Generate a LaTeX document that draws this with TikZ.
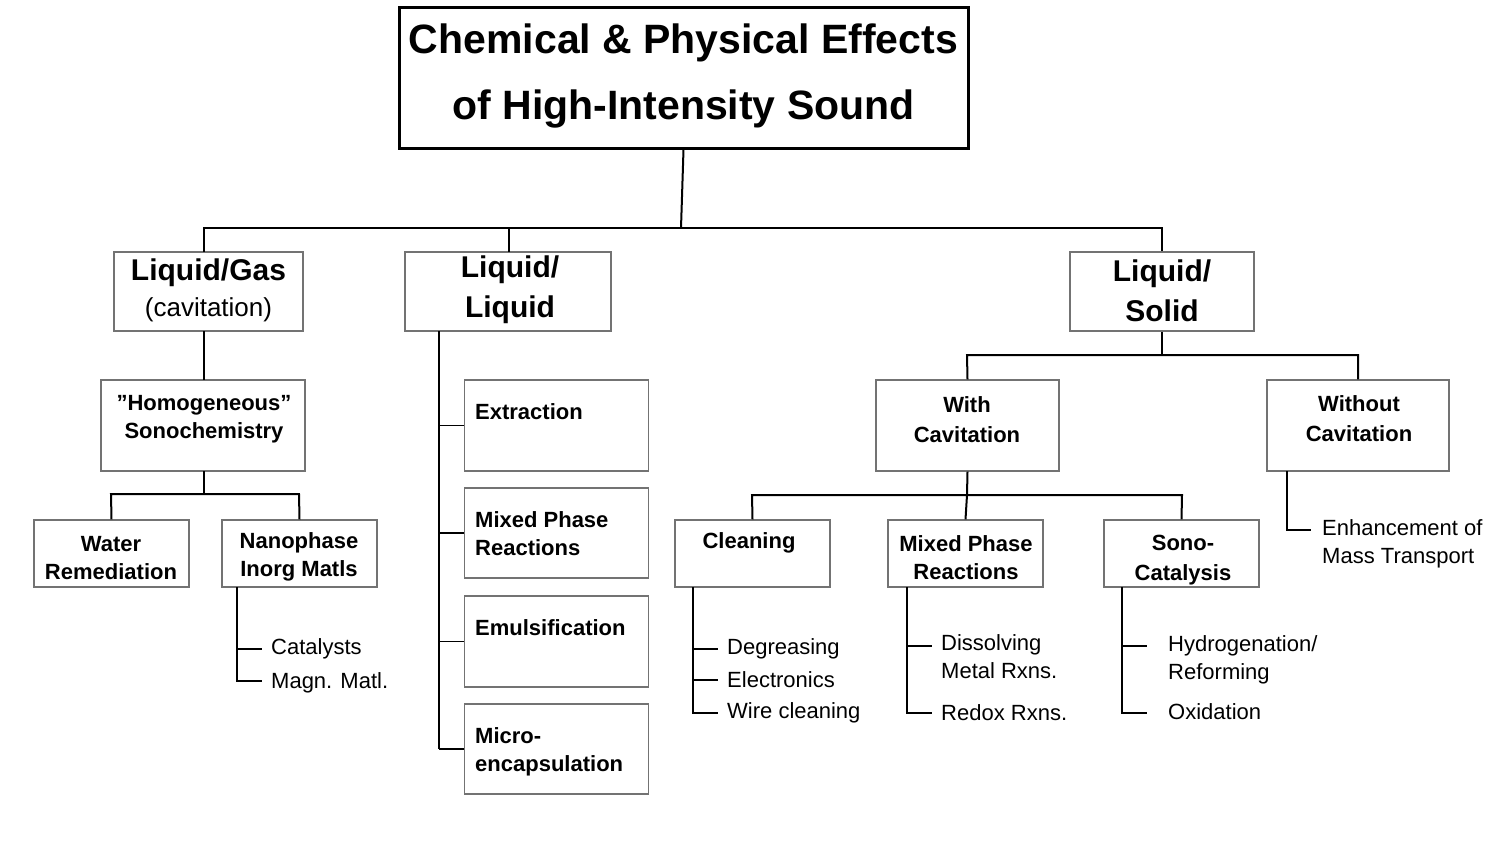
\documentclass[tikz,border=0pt]{standalone}
\usepackage{fontspec}
\setmainfont{Liberation Sans}
\begin{document}
\begin{tikzpicture}[x=1pt,y=-1pt,
 bx/.style={draw=black!55,line width=1.3pt,inner sep=0pt},
 cn/.style={line width=2pt},
 bt/.style={font=\fontsize{22}{28}\selectfont\bfseries,align=center,inner sep=0pt},
 st/.style={font=\fontsize{22}{28}\selectfont,anchor=west,inner sep=0pt,align=left},
 lt/.style={font=\fontsize{30}{38}\selectfont\bfseries,align=center,inner sep=0pt}]
\useasboundingbox (0,0) rectangle (1509,847);
\newcommand\bxat[3]{\path[bx] (#2) rectangle (#3) coordinate (#1-se); \path (#2) coordinate (#1-nw);}
% title
\node[draw=black,line width=3pt,minimum width=569pt,minimum height=141pt,inner sep=0pt] (title) at (683.5,77.5) {};
\node[font=\fontsize{41}{66}\selectfont\bfseries,align=center,inner sep=0pt] (tt) at (683.5,76) {Chemical \& Physical Effects\\of High-Intensity Sound};
% level 1 boxes
\node[bx,minimum width=189pt,minimum height=79pt] (lg) at (208.5,291.5) {};
\node[lt] at (208.5,273) {Liquid/Gas};
\node[font=\fontsize{26}{30}\selectfont,inner sep=0pt] at (208.5,310) {(cavitation)};
\node[bx,minimum width=206pt,minimum height=79pt] (ll) at (508,291.5) {};
\node[lt,font=\fontsize{30}{40}\selectfont\bfseries] at (510,290) {Liquid/\\Liquid};
\node[bx,minimum width=184pt,minimum height=79pt] (ls) at (1162,291.5) {};
\node[lt,font=\fontsize{30}{40}\selectfont\bfseries] at (1162,291) {Liquid/\\Solid};
\coordinate (b0) at (681,228);
\draw[cn] (title.south) -- (b0);
\draw[cn] (204,252) -- (204,228) -- (1162,228) -- (ls.north);
\draw[cn] (509,228) -- (509,252);
% liquid/gas branch
\node[bx,minimum width=204pt,minimum height=91pt] (hom) at (203,425.5) {};
\node[bt] at (204,419) {"Homogeneous”\\Sonochemistry};
\draw[cn] (204,331) -- (204,380);
\node[bx,minimum width=155pt,minimum height=67pt] (wr) at (111.5,553.5) {};
\node[bt] at (111,558) {Water\\Remediation};
\node[bx,minimum width=155pt,minimum height=67pt] (np) at (299.5,553.5) {};
\node[bt] at (299,557) {Nanophase\\Inorg Matls};
\draw[cn] (204,471) -- (204,494);
\draw[cn] (wr.north) -- (111,494) -- (299,494) -- (np.north);
\coordinate (np1) at (262,649); \coordinate (np2) at (262,681);
\draw[line width=1.5pt] (237,587) -- (237,681) -- (np2) (237,649) -- (np1);
\node[st] at (271,649) {Catalysts};
\node[st] at (271,683) {Magn. Matl.};
% liquid/liquid branch
\draw[line width=1.5pt] (439,331) -- (439,749);
\foreach \n/\ya/\yb/\t in {e1/380/471/{Extraction},e2/488/578/{Mixed Phase\\Reactions},e3/596/687/{Emulsification},e4/704/794/{Micro-\\encapsulation}}{
 \node[bx,minimum width=184pt,minimum height={\yb-\ya}] (\n) at (556.5,{(\ya+\yb)/2}) {};
 \draw[line width=1.5pt] (439,{(\ya+\yb)/2}) -- (\n.west);
}
\node[bt,anchor=north west,align=left] at (475,403) {Extraction};
\node[bt,anchor=north west,align=left] at (475,511) {Mixed Phase\\Reactions};
\node[bt,anchor=north west,align=left] at (475,619) {Emulsification};
\node[bt,anchor=north west,align=left] at (475,727) {Micro-\\encapsulation};
% liquid/solid branch
\node[bx,minimum width=183pt,minimum height=91pt] (wc) at (967.5,425.5) {};
\node[bt,font=\fontsize{22}{30}\selectfont\bfseries] at (967,420) {With\\Cavitation};
\node[bx,minimum width=182pt,minimum height=91pt] (woc) at (1358,425.5) {};
\node[bt,font=\fontsize{22}{30}\selectfont\bfseries] at (1359,419) {Without\\Cavitation};
\draw[cn] (ls.south) -- (1162,355);
\draw[cn] (wc.north) -- (967,355) -- (1358,355) -- (woc.north);
\coordinate (wo1) at (1311,530);
\draw[line width=1.5pt] (1287,471) -- (1287,530) -- (wo1);
\node[st] at (1322,544) {Enhancement of\\Mass Transport};
\node[bx,minimum width=155pt,minimum height=67pt] (cl) at (752.5,553.5) {};
\node[bt] at (749,543) {Cleaning};
\node[bx,minimum width=155pt,minimum height=67pt] (mp) at (965.5,553.5) {};
\node[bt] at (966,558) {Mixed Phase\\Reactions};
\node[bx,minimum width=155pt,minimum height=67pt] (sc) at (1181.5,553.5) {};
\node[bt,font=\fontsize{22}{30}\selectfont\bfseries] at (1183,560) {Sono-\\Catalysis};
\draw[cn] (wc.south) -- (967,495);
\draw[cn] (cl.north) -- (752,495) -- (1182,495) -- (sc.north);
\draw[cn] (967,495) -- (mp.north);
\coordinate (c1) at (718,649); \coordinate (c2) at (718,680); \coordinate (c3) at (718,713);
\draw[line width=1.5pt] (693,587) -- (693,713) -- (c3) (693,649) -- (c1) (693,680) -- (c2);
\node[st] at (727,649) {Degreasing};
\node[st] at (727,680) {Electronics};
\node[st] at (727,713) {Wire cleaning};
\coordinate (m1) at (932,646); \coordinate (m2) at (932,713);
\draw[line width=1.5pt] (907,587) -- (907,713) -- (m2) (907,646) -- (m1);
\node[st] at (941,657) {Dissolving\\Metal Rxns.};
\node[st] at (941,713) {Redox Rxns.};
\coordinate (s1) at (1147,646); \coordinate (s2) at (1147,713);
\draw[line width=1.5pt] (1122,587) -- (1122,713) -- (s2) (1122,646) -- (s1);
\node[st] at (1168,660) {Hydrogenation/\\Reforming};
\node[st] at (1168,712) {Oxidation};
\end{tikzpicture}
\end{document}
